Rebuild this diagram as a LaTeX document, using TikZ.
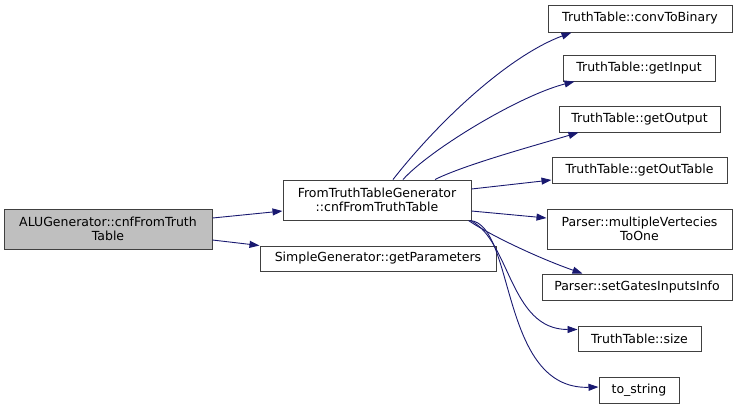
\documentclass[tikz,border=0pt]{standalone}
\usepackage{fontspec}
\setmainfont{DejaVu Sans}
\usepackage{tikz}
\usetikzlibrary{arrows.meta,positioning,calc}
\definecolor{edgeblue}{HTML}{191970}
\definecolor{curgray}{HTML}{BFBFBF}

\begin{document}
\begin{tikzpicture}[x=1pt,y=-1pt,every node/.style={font=\fontsize{12.5}{14}\selectfont},
 fn/.style={draw=black!75,line width=1pt,fill=white,inner sep=0pt,minimum height=26pt,align=center},
 cur/.style={fn,fill=curgray},
 edge/.style={draw=edgeblue,line width=0.9pt,-{Stealth[length=10pt,width=7pt,inset=0pt]}}]
\useasboundingbox (0,0) rectangle (741,408);
\node[cur,minimum width=208pt,minimum height=40pt] (alu) at (108,229) {ALUGenerator::cnfFromTruth\\Table};
\node[fn,minimum width=188pt,minimum height=40pt] (ftt) at (377,200) {FromTruthTableGenerator\\::cnfFromTruthTable};
\node[fn,minimum width=236pt,minimum height=25pt] (params) at (378,258.5) {SimpleGenerator::getParameters};
\node[fn,minimum width=184pt,minimum height=27pt] (conv) at (640,18.5) {TruthTable::convToBinary};
\node[fn,minimum width=152pt] (input) at (639,68) {TruthTable::getInput};
\node[fn,minimum width=161pt] (output) at (639.5,119) {TruthTable::getOutput};
\node[fn,minimum width=175pt] (outtab) at (639.5,170) {TruthTable::getOutTable};
\node[fn,minimum width=185pt,minimum height=40pt] (multi) at (639.5,229) {Parser::multipleVertecies\\ToOne};
\node[fn,minimum width=190pt] (gates) at (637,287) {Parser::setGatesInputsInfo};
\node[fn,minimum width=123pt,minimum height=25pt] (size) at (639.5,338.5) {TruthTable::size};
\node[fn,minimum width=80pt] (tostr) at (639,390) {to\_string};
% calls from the selected function
\draw[edge] ($(alu.east)+(0,-11)$) -- ($(ftt.west)+(0,11)$);
\draw[edge] ($(alu.east)+(0,11)$) -- (params.north west);
% calls from FromTruthTableGenerator
\draw[edge] ($(ftt.north)+(16,0)$) .. controls +(47,-60) and +(-62,23) .. ($(conv.south west)+(24,0)$);
\draw[edge] ($(ftt.north)+(26,0)$) .. controls +(27,-30) and +(-55,14) .. ($(input.south west)+(12,0)$);
\draw[edge] ($(ftt.north)+(58,0)$) .. controls +(30,-15) and +(-40,12) .. ($(output.south west)+(20,0)$);
\draw[edge] ($(ftt.east)+(0,-11)$) -- ($(outtab.west)+(0,10)$);
\draw[edge] ($(ftt.east)+(0,11)$) -- ($(multi.west)+(0,-11)$);
\draw[edge] ($(ftt.south east)+(-3,0)$) .. controls +(22,15) and +(-43,-15) .. ($(gates.north west)+(41,0)$);
\draw[edge] ($(ftt.south east)+(-1,0)$) .. controls +(40,20) and +(-68,0) .. ($(size.north west)+(0,4)$);
\draw[edge] ($(ftt.south east)+(-1,0)$) .. controls +(45,5) and +(-99,3) .. ($(tostr.west)+(0,-3)$);
\end{tikzpicture}
\end{document}
